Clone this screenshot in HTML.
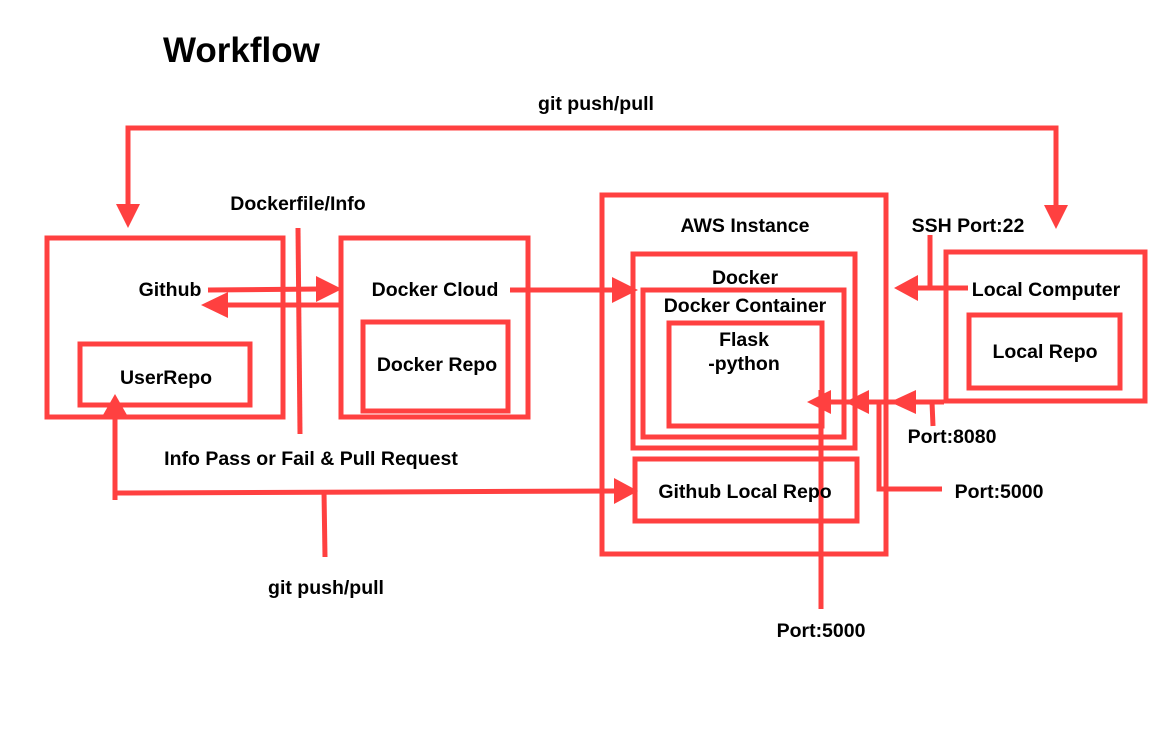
<!DOCTYPE html>
<html><head><meta charset="utf-8"><style>
html,body{margin:0;padding:0;background:#fff;}
svg text{font-family:"Liberation Sans",sans-serif;font-weight:bold;fill:#000;}
</style></head><body>
<svg width="1167" height="727" viewBox="0 0 1167 727" xmlns="http://www.w3.org/2000/svg">
<g fill="none" stroke="#ff4040" stroke-width="5">
<rect x="47" y="238" width="236" height="179"/>
<rect x="80" y="344" width="170" height="61"/>
<rect x="341" y="238" width="187" height="179"/>
<rect x="363" y="322" width="145" height="89"/>
<rect x="602" y="195" width="284" height="359"/>
<rect x="633" y="254" width="222" height="194"/>
<rect x="643" y="290" width="201" height="147"/>
<rect x="669" y="323" width="153" height="103"/>
<rect x="635" y="459" width="222" height="62"/>
<rect x="946" y="252" width="199" height="149"/>
<rect x="969" y="315" width="151" height="73"/>
<polyline points="128,207 128,128 1056,128 1056,208"/>
<line x1="298" y1="228" x2="300" y2="434"/>
<line x1="208" y1="290" x2="320" y2="289"/>
<line x1="340" y1="305" x2="225" y2="305"/>
<line x1="510" y1="290" x2="615" y2="290"/>
<line x1="968" y1="288" x2="912" y2="288"/>
<line x1="930" y1="235" x2="930" y2="288"/>
<line x1="944" y1="402" x2="825" y2="402"/>
<line x1="932" y1="402" x2="933" y2="426"/>
<polyline points="942,489 879,489 879,402"/>
<line x1="821" y1="390" x2="821" y2="609"/>
<polyline points="115,500 115,412"/>
<line x1="115" y1="493" x2="618" y2="491"/>
<line x1="324" y1="491" x2="325" y2="557"/>
</g>
<g fill="#ff4040">
<polygon points="116,204 140,204 128,228"/>
<polygon points="1044,205 1068,205 1056,229"/>
<polygon points="316,276 316,302 342,289"/>
<polygon points="228,292 228,318 201,305"/>
<polygon points="612,277 612,303 638,290"/>
<polygon points="918,275 918,301 894,288"/>
<polygon points="831,390 831,414 807,402"/>
<polygon points="869,390 869,414 845,402"/>
<polygon points="916,390 916,414 890,402"/>
<polygon points="103,415 127,415 115,394"/>
<polygon points="614,478 614,504 638,491"/>
</g>
<g font-size="19.5">
<text x="163" y="62" font-size="35">Workflow</text>
<text x="596" y="110" text-anchor="middle">git push/pull</text>
<text x="298" y="210" text-anchor="middle">Dockerfile/Info</text>
<text x="170" y="296" text-anchor="middle">Github</text>
<text x="166" y="384" text-anchor="middle">UserRepo</text>
<text x="435" y="296" text-anchor="middle">Docker Cloud</text>
<text x="437" y="371" text-anchor="middle">Docker Repo</text>
<text x="311" y="465" text-anchor="middle">Info Pass or Fail &amp; Pull Request</text>
<text x="326" y="594" text-anchor="middle">git push/pull</text>
<text x="745" y="232" text-anchor="middle">AWS Instance</text>
<text x="745" y="284" text-anchor="middle">Docker</text>
<text x="745" y="312" text-anchor="middle">Docker Container</text>
<text x="744" y="346" text-anchor="middle">Flask</text>
<text x="744" y="370" text-anchor="middle">-python</text>
<text x="745" y="498" text-anchor="middle">Github Local Repo</text>
<text x="968" y="232" text-anchor="middle">SSH Port:22</text>
<text x="1046" y="296" text-anchor="middle">Local Computer</text>
<text x="1045" y="358" text-anchor="middle">Local Repo</text>
<text x="952" y="443" text-anchor="middle">Port:8080</text>
<text x="999" y="498" text-anchor="middle">Port:5000</text>
<text x="821" y="637" text-anchor="middle">Port:5000</text>
</g>
</svg>
</body></html>
